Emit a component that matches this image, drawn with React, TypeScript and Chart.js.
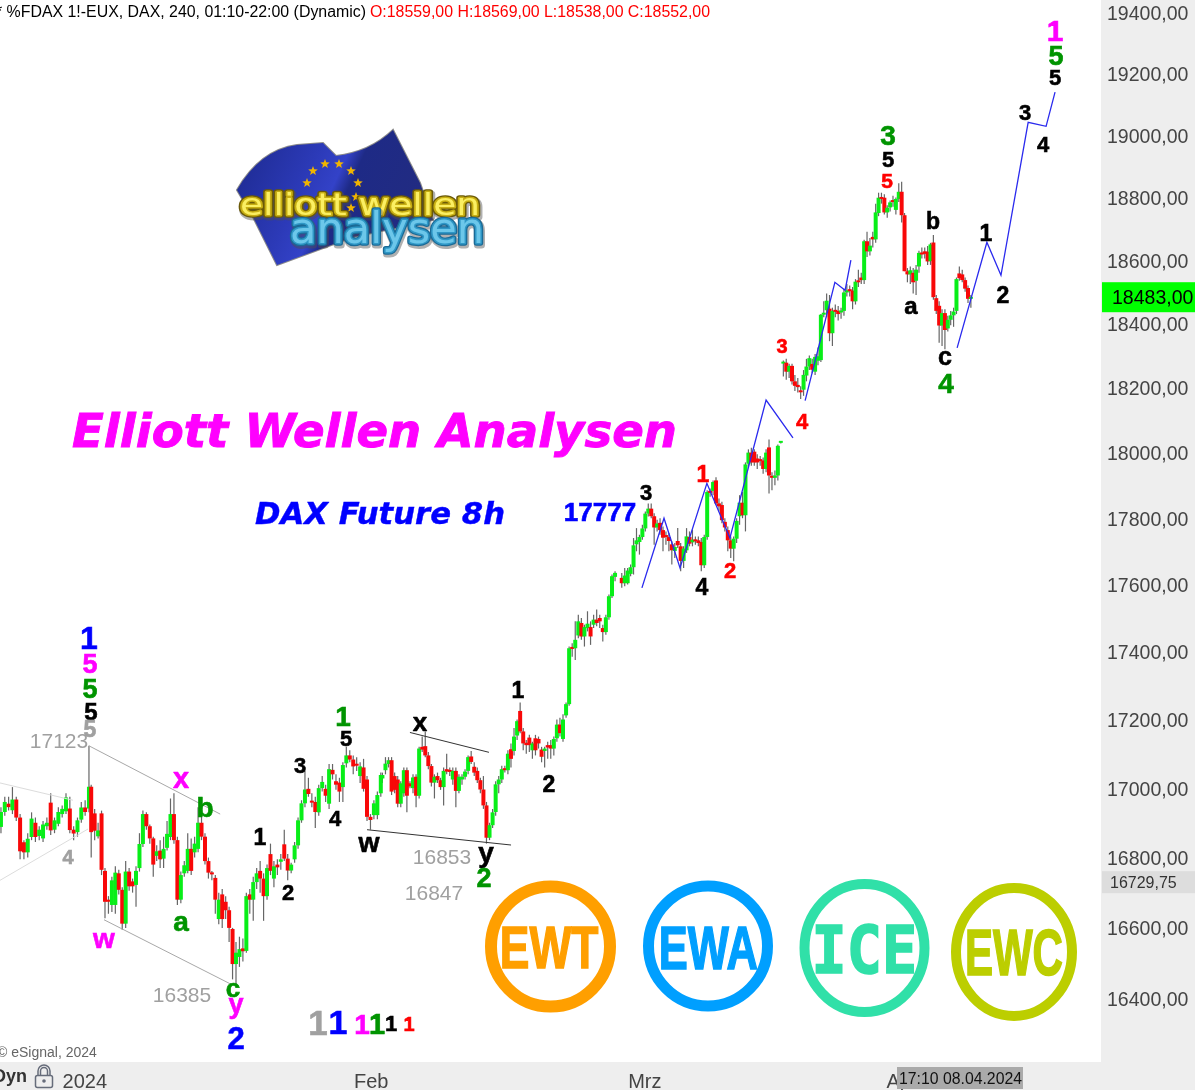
import React, { useEffect, useRef } from "react";
import { Chart, registerables } from "chart.js";

Chart.register(...registerables);

// open, high, low, close
const seg1: number[][] = [
  [16888,16945,16870,16931],[16931,16975,16920,16960],[16955,16975,16935,16945],[16936,17003,16925,16967],
  [16967,16975,16905,16915],[16915,16925,16795,16818],[16844,16850,16795,16815],[16815,16870,16800,16854],
  [16859,16930,16850,16912],[16900,16915,16845,16859],[16862,16890,16850,16880],[16855,16905,16845,16895],
  [16890,16915,16880,16900],[16958,16985,16865,16878],[16880,16915,16870,16907],[16897,16945,16890,16931],
  [16925,16950,16915,16940],[16933,16985,16925,16973],[16941,16975,16870,16879],[16880,16890,16850,16869],
  [16873,16915,16860,16907],[16909,16960,16900,16944],[16944,16965,16920,16931],[16941,17123,16930,17004],
];
const seg2: number[][] = [
  [17004,17010,16800,16873],[16927,16940,16850,16877],[16861,16900,16855,16878],[16927,16935,16750,16765],
  [16762,16770,16627,16674],[16680,16690,16640,16674],[16665,16745,16645,16735],[16665,16775,16640,16757],
  [16755,16765,16695,16708],[16708,16715,16595,16612],[16612,16790,16600,16760],[16760,16770,16705,16718],
  [16732,16740,16700,16718],[16722,16775,16660,16762],[16770,16870,16760,16839],[16839,16935,16830,16925],
  [16925,16930,16880,16890],[16890,16895,16840,16855],[16855,16860,16745,16780],[16805,16835,16790,16818],
  [16820,16850,16770,16795],[16797,16860,16770,16825],[16828,16905,16820,16868],[16859,16970,16850,16925],
  [16925,16985,16840,16850],[16850,16860,16665,16680],[16680,16760,16670,16750],[16755,16790,16745,16778],
  [16762,16870,16755,16825],[16825,16855,16750,16762],[16815,16860,16800,16840],[16825,16945,16815,16900],
  [16900,16920,16850,16860],[16860,16870,16780,16790],[16790,16800,16740,16757],[16757,16762,16735,16752],
  [16742,16750,16640,16680],[16625,16700,16610,16680],[16695,16710,16600,16625],[16674,16690,16625,16650],
  [16650,16660,16560,16600],[16597,16600,16455,16498],[16498,16560,16440,16530],[16518,16575,16490,16540],
  [16542,16570,16505,16534],[16535,16700,16530,16690],[16695,16710,16640,16680],[16680,16745,16620,16730],
  [16730,16770,16710,16755],[16762,16790,16700,16740],[16740,16755,16620,16690],[16690,16780,16680,16770],
  [16810,16840,16750,16762],[16740,16790,16715,16775],[16780,16795,16750,16772],[16788,16810,16765,16795],
  [16838,16880,16790,16797],[16797,16810,16735,16763],[16763,16785,16755,16780],[16795,16845,16785,16835],
  [16835,16915,16825,16907],[16907,16965,16900,16956],[16956,17050,16945,16996],[16998,17030,16975,16983],
  [16961,16985,16945,16958],[16960,16975,16885,16931],[16930,17010,16920,17000],[17000,17035,16990,17018],
  [16998,17010,16960,16978],[16955,17070,16940,17055],[17053,17070,17025,17040],[17020,17040,16995,17010],
  [17016,17030,16960,16990],[17003,17075,16960,17067],[17072,17120,17060,17095],[17095,17110,17075,17083],
  [17083,17095,17040,17063],[17070,17090,17050,17065],[17035,17075,17015,17063],[17060,17085,16990,16998],
  [17025,17035,16905,16917],[16917,16925,16880,16908],[16922,16965,16910,16956],[16922,16990,16910,16980],
  [16985,17045,16975,17038],
];
const seg3: number[][] = [
  [17028,17045,17015,17038],[17052,17090,17040,17071],[17070,17090,17060,17081],[17081,17090,16980,16990],
  [17035,17045,16985,16995],[17025,17035,16945,16955],[16955,17020,16945,17014],[16985,17060,16975,17052],
  [17052,17060,16930,16978],[17014,17020,17000,17005],[17000,17040,16985,17031],[17033,17040,16945,16978],
  [16978,17120,16970,17115],[17120,17150,17105,17112],[17122,17165,17090,17095],[17095,17105,17055,17064],
  [17064,17070,17005,17016],[17016,17040,16970,17033],[17035,17045,17015,17023],[17023,17030,16995,17003],
  [17003,17060,16950,17050],[17055,17100,17040,17048],[17050,17060,17035,17047],[17025,17060,17010,17050],
  [17050,17060,16945,16992],[16992,17040,16985,17033],[17025,17040,17010,17033],[17033,17055,17025,17048],
  [17050,17095,17040,17090],[17092,17108,17070,17076],[17062,17075,17035,17045],[17050,17060,17015,17023],
  [17023,17030,16985,16996],[16996,17035,16940,16950],[16950,16960,16840,16857],[16857,16900,16850,16893],
  [16893,16940,16885,16930],[16931,17020,16920,17011],[17011,17035,16985,17025],[17025,17065,17015,17055],
  [17057,17065,17045,17052],[17052,17110,17040,17100],[17113,17130,17060,17085],[17108,17175,17095,17150],
  [17153,17200,17140,17195],[17225,17250,17160,17165],[17165,17175,17110,17130],[17132,17140,17100,17125],
  [17147,17155,17105,17125],[17110,17135,17085,17130],[17145,17155,17095,17110],[17143,17150,17115,17130],
  [17112,17120,17075,17091],[17108,17120,17060,17115],[17125,17135,17085,17118],[17125,17140,17085,17115],
  [17115,17150,17095,17143],[17145,17200,17135,17185],[17185,17205,17150,17160],[17143,17215,17135,17200],
  [17212,17250,17205,17245],[17245,17415,17240,17410],[17413,17425,17385,17408],[17410,17490,17375,17435],
  [17448,17510,17440,17490],[17485,17500,17435,17445],[17445,17480,17415,17473],[17470,17520,17460,17483],
  [17473,17490,17420,17445],[17480,17510,17470,17495],[17495,17525,17475,17485],[17500,17510,17470,17490],
  [17470,17480,17430,17458],[17458,17510,17450,17502],[17502,17570,17495,17565],[17565,17630,17560,17625],
  [17623,17640,17610,17635],
];
const seg4: number[][] = [
  [17620,17635,17590,17604],[17604,17650,17595,17627],[17604,17650,17600,17642],[17632,17660,17625,17652],
  [17652,17740,17630,17718],[17721,17770,17700,17733],[17728,17750,17690,17743],[17743,17780,17735,17769],
  [17769,17820,17760,17814],[17814,17845,17805,17829],[17829,17845,17800,17806],[17806,17815,17720,17772],
  [17772,17795,17760,17784],[17786,17800,17750,17764],[17764,17775,17700,17741],[17748,17760,17720,17743],
  [17743,17755,17700,17731],[17721,17730,17660,17703],[17701,17725,17680,17713],[17731,17770,17710,17718],
  [17715,17725,17640,17671],[17671,17715,17650,17708],[17703,17770,17695,17745],[17743,17760,17715,17723],
  [17727,17765,17715,17735],[17735,17745,17720,17730],[17733,17745,17715,17725],[17728,17740,17640,17658],
  [17658,17750,17650,17743],[17743,17885,17735,17880],[17880,17890,17865,17877],[17883,17915,17870,17910],
  [17915,17925,17840,17845],[17845,17860,17820,17836],[17840,17850,17785,17794],[17789,17800,17760,17772],
  [17764,17775,17700,17733],[17733,17745,17680,17708],[17708,17745,17670,17738],[17738,17800,17725,17792],
  [17806,17870,17780,17847],[17847,17880,17800,17809],[17809,17970,17760,17964],[17966,18010,17955,18000],
  [18000,18015,17960,17970],[18003,18010,17960,17970],[17982,17995,17950,17970],[17978,17990,17960,17974],
  [17976,17985,17935,17950],[17950,18010,17940,18000],[18016,18040,17875,17930],[17927,17940,17885,17923],
  [17923,17945,17900,17930],[17930,18025,17915,18021],[18030,18034,18028,18032],
];
const seg5: number[][] = [
  [18275,18285,18235,18280],[18278,18290,18225,18250],[18250,18275,18230,18268],[18268,18275,18210,18220],
  [18220,18240,18190,18206],[18209,18230,18185,18202],[18192,18205,18165,18186],[18194,18255,18175,18240],
  [18238,18290,18220,18266],[18266,18300,18255,18292],[18274,18290,18245,18256],[18250,18305,18240,18296],
  [18284,18325,18270,18298],[18286,18430,18280,18428],[18428,18470,18420,18433],[18442,18495,18420,18472],
  [18447,18490,18345,18370],[18370,18450,18330,18440],[18442,18460,18420,18437],[18440,18455,18410,18430],
  [18435,18450,18415,18440],[18440,18510,18425,18498],[18498,18525,18485,18505],[18506,18520,18485,18502],
  [18504,18515,18445,18470],[18470,18540,18460,18532],[18535,18570,18515,18530],[18545,18560,18525,18537],
  [18537,18665,18525,18660],[18660,18690,18610,18628],[18628,18670,18615,18646],[18674,18690,18640,18666],
  [18666,18780,18655,18752],[18750,18815,18740,18799],[18799,18815,18780,18795],[18799,18810,18745,18752],
  [18752,18775,18735,18767],[18768,18790,18755,18784],[18790,18805,18770,18785],[18760,18800,18745,18795],
  [18795,18845,18785,18818],[18818,18850,18720,18743],[18743,18750,18565,18565],[18565,18575,18530,18555],
  [18555,18580,18525,18568],[18560,18575,18495,18530],[18535,18585,18490,18570],[18580,18630,18560,18623],
  [18623,18640,18605,18618],[18628,18640,18605,18620],[18627,18645,18585,18596],[18597,18655,18585,18650],
  [18656,18680,18475,18483],[18480,18490,18430,18440],[18456,18470,18340,18394],[18394,18445,18330,18433],
  [18433,18445,18320,18380],[18385,18425,18375,18412],[18412,18440,18395,18426],[18426,18450,18390,18438],
  [18440,18545,18430,18540],[18558,18580,18535,18543],[18555,18570,18530,18537],[18537,18545,18500,18510],
  [18512,18520,18465,18478],[18478,18490,18450,18484],
];

const segmentSpans = [[0.3,27.8],[28.5,119],[119.5,192.2],[194.3,244],[244.8,303.4]];
const segments = [seg1, seg2, seg3, seg4, seg5];

const priceTicks = [16400,16600,16800,17000,17200,17400,17600,17800,18000,18200,18400,18600,18800,19000,19200,19400];
const timeTickSlots = [26.5,116,201.5,281.9];
const timeTickLabels = ["2024","Feb","Mrz","Apr"];

const projectionA = [[200.6,17590],[207.5,17800],[212.5,17650],[220.9,17906],[228.1,17740],[239.4,18162],[247.8,18045]];
const projectionB = [[251.6,18160],[260.9,18530],[264.1,18505],[265.9,18600]];
const projectionC = [[299.1,18324],[308.4,18657],[312.8,18552],[321.3,19042],[326.9,19029],[329.7,19140]];
const channelUpper = [[27.8,17123],[68.8,16925]];
const channelLower = [[32.5,16623],[72.5,16440]];
const fadedUpper = [[0,17015],[22.8,16965]];
const fadedLower = [[0,16735],[27.5,16882]];
const triangleUpper = [[128.1,17162],[152.8,17104]];
const triangleLower = [[114.7,16880],[159.7,16836]];

const lastPrice = 18483;
const crossPrice = 16729.75;

const BLUE = "#0000ff", MAG = "#ff00ff", GRN = "#009400", BLK = "#000000", GRY = "#a0a0a0", RED = "#ff0000";
// text, centre x, baseline y, size, colour, bold
const waveLabels: [string, number, number, number, string, boolean?][] = [
  ["1",89,649,32,BLUE],["5",90,673,27,MAG],["5",90,698,27,GRN],["5",91,720,24,BLK],["5",90,737,23,GRY],
  ["17123",59,748,21,GRY,false],["x",181,788,29,MAG],["b",205,817,28,GRN],["4",68,864,20,GRY],
  ["a",181,931,28,GRN],["w",104,948,28,MAG],["16385",182,1002,21,GRY,false],["c",233,997,26,GRN],
  ["y",236,1013,27,MAG],["2",236,1049,31,BLUE],
  ["1",318,1035,35,GRY],["1",338,1034,34,BLUE],["1",362,1034,28,MAG],["1",377,1034,29,GRN],["1",391,1031,22,BLK],["1",409,1031,20,RED],
  ["1",260,845,23,BLK],["2",288,900,22,BLK],["3",300,773,22,BLK],["1",343,726,28,GRN],["5",346,746,22,BLK],
  ["4",335,826,22,BLK],["w",369,852,27,BLK],["x",420,731,26,BLK],["1",518,698,23,BLK],["2",549,792,23,BLK],
  ["16853",442,864,21,GRY,false],["y",486,862,28,BLK],["2",484,887,27,GRN],["16847",434,900,21,GRY,false],
  ["3",646,500,22,BLK],["1",703,482,23,RED],["4",702,595,23,BLK],["2",730,578,22,RED],["4",802,429,22,RED],["3",782,353,20,RED],
  ["17777",600,521,26,BLUE],
  ["3",888,145,28,GRN],["5",888,167,22,BLK],["5",887,188,21,RED],["b",933,229,23,BLK],["a",911,314,24,BLK],
  ["1",986,241,23,BLK],["2",1003,303,23,BLK],["c",945,365,25,BLK],["4",946,393,28,GRN],
  ["4",1043,152,22,BLK],["3",1025,120,22,BLK],["1",1055,41,30,MAG],["5",1056,65,27,GRN],["5",1055,85,22,BLK],
];
const badges: [string, number, number, number, number, string, number, number, number, number, string, number][] = [
  ["EWT",550.5,946.5,59.5,60,"#ff9f00",550,947,96,41,"Liberation Sans",12],
  ["EWA",708,946,59.5,60,"#009fff",709,947,96,43,"Liberation Sans",11],
  ["ICE",864.5,948,60,64,"#30e0a8",865,949,98,52,"DejaVu Sans Mono",10],
  ["EWC",1014,952,58,64,"#bcce00",1014.5,952,95,45,"Liberation Sans",10],
];
const starSpots = [[313,171],[325,164],[339,164],[351,171],[358,183],[356,197],[351,208],[307,183]];

function fitText(ctx: CanvasRenderingContext2D, text: string, x: number, base: number, width: number, font: string, color: string, heavy = 0) {
  ctx.save();
  ctx.font = font;
  ctx.textAlign = "left";
  ctx.textBaseline = "alphabetic";
  const m = ctx.measureText(text).width;
  ctx.translate(x, base);
  ctx.scale(width / m, 1);
  ctx.fillStyle = color;
  ctx.fillText(text, 0, 0);
  if (heavy > 0) {
    ctx.strokeStyle = color;
    ctx.lineWidth = heavy;
    ctx.lineJoin = "miter";
    ctx.miterLimit = 2;
    ctx.strokeText(text, 0, 0);
  }
  ctx.restore();
}
function fitBox(ctx: CanvasRenderingContext2D, text: string, cx: number, cy: number, w: number, h: number, font: string, color: string) {
  ctx.save();
  ctx.font = font;
  ctx.textAlign = "left";
  ctx.textBaseline = "alphabetic";
  const m = ctx.measureText(text);
  const tw = m.actualBoundingBoxRight + m.actualBoundingBoxLeft;
  const th = m.actualBoundingBoxAscent + m.actualBoundingBoxDescent;
  ctx.translate(cx, cy);
  ctx.scale(w / tw, h / th);
  ctx.fillStyle = color;
  ctx.strokeStyle = color;
  ctx.lineWidth = 1;
  ctx.lineJoin = "miter";
  ctx.fillText(text, -tw / 2 + m.actualBoundingBoxLeft, th / 2 - m.actualBoundingBoxDescent);
  ctx.strokeText(text, -tw / 2 + m.actualBoundingBoxLeft, th / 2 - m.actualBoundingBoxDescent);
  ctx.restore();
}
function star(ctx: CanvasRenderingContext2D, x: number, y: number, r: number) {
  ctx.beginPath();
  for (let i = 0; i < 10; i++) {
    const a = -Math.PI / 2 + (i * Math.PI) / 5;
    const d = i % 2 ? r * 0.42 : r;
    ctx.lineTo(x + Math.cos(a) * d, y + Math.sin(a) * d);
  }
  ctx.closePath();
  ctx.fill();
}
function logoWord(ctx: CanvasRenderingContext2D, text: string, x: number, base: number, width: number, font: string, dark: string, mid: string, light: string) {
  ctx.save();
  ctx.font = font;
  ctx.textBaseline = "alphabetic";
  ctx.textAlign = "left";
  ctx.lineJoin = "round";
  const m = ctx.measureText(text).width;
  ctx.translate(x, base);
  ctx.scale(width / m, 1);
  ctx.strokeStyle = "rgba(80,80,80,0.45)";
  ctx.lineWidth = 7;
  ctx.strokeText(text, 1, 2);
  ctx.strokeStyle = dark;
  ctx.lineWidth = 5.5;
  ctx.strokeText(text, 0, 0);
  ctx.strokeStyle = mid;
  ctx.lineWidth = 3;
  ctx.strokeText(text, 0, 0);
  ctx.fillStyle = light;
  ctx.fillText(text, 0, 0);
  ctx.restore();
}

const backdrop = {
  id: "backdrop",
  beforeDraw(chart: any) {
    const { ctx } = chart;
    ctx.save();
    ctx.fillStyle = "#ffffff";
    ctx.fillRect(0, 0, 1195, 1090);
    ctx.fillStyle = "#eeeeee";
    ctx.fillRect(0, 1062, 1195, 28);
    ctx.fillRect(1101, 0, 94, 1090);
    ctx.restore();
    // price labels sit two pixels under their tick position
    if (!chart.$labelsNudged) {
      chart.scales.y.getLabelItems().forEach((item: any) => { item.options.translation[1] += 2; });
      chart.$labelsNudged = true;
    }
  },
};

const overlay = {
  id: "overlay",
  afterDraw(chart: any) {
    const { ctx } = chart;
    const y = chart.scales.y;
    ctx.save();

    // header
    fitText(ctx, "* %FDAX 1!-EUX, DAX, 240, 01:10-22:00 (Dynamic)", -4, 17, 370, "16px 'Liberation Sans'", "#000000");
    fitText(ctx, "O:18559,00 H:18569,00 L:18538,00 C:18552,00", 370, 17, 340, "16px 'Liberation Sans'", "#ff0000");

    // title
    fitText(ctx, "Elliott Wellen Analysen", 72, 447, 605, "italic bold 46px 'DejaVu Sans'", MAG, 0.9);
    fitText(ctx, "DAX Future 8h", 255, 524, 250, "italic bold 30px 'DejaVu Sans'", BLUE, 0.4);

    // logo flag
    const g = ctx.createLinearGradient(237, 150, 430, 240);
    g.addColorStop(0, "#1d2a90");
    g.addColorStop(0.35, "#2c3ab8");
    g.addColorStop(0.48, "#3342c8");
    g.addColorStop(0.55, "#1e2a86");
    g.addColorStop(1, "#232c80");
    ctx.beginPath();
    ctx.moveTo(237, 190);
    ctx.quadraticCurveTo(260, 150, 297, 145);
    ctx.lineTo(323, 143);
    ctx.lineTo(336, 156);
    ctx.quadraticCurveTo(370, 152, 393, 130);
    ctx.lineTo(420, 183);
    ctx.lineTo(433, 220);
    ctx.lineTo(353, 237);
    ctx.lineTo(277, 265);
    ctx.lineTo(253, 217);
    ctx.closePath();
    ctx.fillStyle = g;
    ctx.strokeStyle = "#8a8a8a";
    ctx.lineWidth = 2;
    ctx.stroke();
    ctx.fill();
    ctx.fillStyle = "#f0b400";
    starSpots.forEach(([sx, sy]) => star(ctx, sx, sy, 5));
    logoWord(ctx, "elliott wellen", 240, 215, 240, "30px 'DejaVu Sans'", "#6b5a08", "#c7ae12", "#fbef62");
    logoWord(ctx, "analysen", 290, 243, 194, "42px 'DejaVu Sans'", "#1a6a96", "#2f97c6", "#6cc7ea");

    // badges
    badges.forEach(([t, cx, cy, rx, ry, col, tx, ty, tw, th, fam, lw]) => {
      ctx.beginPath();
      ctx.ellipse(cx, cy, rx, ry, 0, 0, Math.PI * 2);
      ctx.strokeStyle = col;
      ctx.lineWidth = lw;
      ctx.stroke();
      fitBox(ctx, t, tx, ty, tw, th, `bold 40px '${fam}'`, col);
    });

    // wave labels
    ctx.textAlign = "center";
    ctx.textBaseline = "alphabetic";
    ctx.lineJoin = "miter";
    ctx.miterLimit = 2;
    waveLabels.forEach(([t, x, b, s, c, bold]) => {
      ctx.font = `${bold === false ? "" : "bold "}${s}px 'Liberation Sans'`;
      ctx.fillStyle = c;
      ctx.fillText(t, x, b);
      if (bold !== false) {
        ctx.strokeStyle = c;
        ctx.lineWidth = 0.6;
        ctx.strokeText(t, x, b);
      }
    });

    // copyright and bottom strip
    ctx.textAlign = "left";
    ctx.font = "14px 'Liberation Sans'";
    ctx.fillStyle = "#666666";
    ctx.fillText("© eSignal, 2024", -3, 1057);
    ctx.font = "bold 18px 'Liberation Sans'";
    ctx.fillStyle = "#333333";
    ctx.textAlign = "right";
    ctx.fillText("Dyn", 27, 1082);
    ctx.strokeStyle = "#666c7a";
    ctx.lineWidth = 1.5;
    ctx.beginPath();
    ctx.roundRect(35.5, 1075.5, 17, 12, 2);
    ctx.stroke();
    ctx.beginPath();
    ctx.moveTo(38, 1075);
    ctx.lineTo(38, 1071);
    ctx.arc(44, 1071, 6, Math.PI, 0);
    ctx.lineTo(50, 1075);
    ctx.moveTo(40.5, 1075);
    ctx.lineTo(40.5, 1071);
    ctx.arc(44, 1071, 3.5, Math.PI, 0);
    ctx.lineTo(47.5, 1075);
    ctx.stroke();
    ctx.fillStyle = "#666c7a";
    ctx.beginPath();
    ctx.arc(44, 1081, 1.8, 0, Math.PI * 2);
    ctx.fill();

    // crosshair time tag
    ctx.fillStyle = "#aaaaaa";
    ctx.fillRect(897, 1067, 126, 22);
    fitText(ctx, "17:10 08.04.2024", 899, 1084, 123, "16px 'Liberation Sans'", "#111111");

    // price tags
    const lastY = y.getPixelForValue(lastPrice);
    ctx.fillStyle = "#00ff00";
    ctx.fillRect(1102, lastY - 15, 93, 30);
    ctx.fillStyle = "#000000";
    ctx.textAlign = "left";
    ctx.font = "19.5px 'Liberation Sans'";
    ctx.fillText("18483,00", 1112, lastY + 7);
    const crossY = y.getPixelForValue(crossPrice);
    ctx.fillStyle = "#dddddd";
    ctx.fillRect(1102, crossY - 11, 93, 22);
    ctx.fillStyle = "#333333";
    ctx.font = "16px 'Liberation Sans'";
    ctx.fillText("16729,75", 1110, crossY + 6);
    ctx.restore();
  },
};

function lineDataset(points: number[][], color: string, width = 1) {
  return {
    type: "line" as const,
    data: points.map(([x, v]) => ({ x, y: v })),
    borderColor: color,
    borderWidth: width,
    pointRadius: 0,
    tension: 0,
    order: 0,
  };
}

export default function App() {
  const ref = useRef<HTMLCanvasElement | null>(null);
  useEffect(() => {
    if (!ref.current) return;
    const rows = segments.flatMap((seg, s) => {
      const [a, b] = segmentSpans[s];
      return seg.map((c, k) => ({ x: a + (k * (b - a)) / (seg.length - 1), c }));
    });
    const wicks = rows.map(({ x, c }) => ({ x, y: [c[2], c[1]] }));
    const bodies = rows.map(({ x, c }) => ({ x, y: [Math.min(c[0], c[3]), Math.max(c[0], c[3])] }));
    const colours = rows.map(({ c }) => (c[3] >= c[0] ? "#08ee18" : "#f80808"));
    const chart = new Chart(ref.current, {
      type: "bar",
      data: {
        datasets: [
          lineDataset(projectionA, "#2a2aee", 1.3),
          lineDataset(projectionB, "#2a2aee", 1.3),
          lineDataset(projectionC, "#2a2aee", 1.3),
          lineDataset(channelUpper, "#a8a8a8"),
          lineDataset(channelLower, "#a8a8a8"),
          lineDataset(fadedUpper, "#dcdcdc"),
          lineDataset(fadedLower, "#dcdcdc"),
          lineDataset(triangleUpper, "#333333"),
          lineDataset(triangleLower, "#333333"),
          { data: bodies, backgroundColor: colours, barThickness: 4, grouped: false, minBarLength: 2, inflateAmount: 0, order: 1 },
          { data: wicks, backgroundColor: "#666666", barThickness: 1.2, grouped: false, inflateAmount: 0, order: 2 },
        ] as any,
      },
      options: {
        responsive: false,
        animation: false,
        devicePixelRatio: 1,
        layout: { padding: 0 },
        plugins: { legend: { display: false }, title: { display: false }, tooltip: { enabled: false } },
        scales: {
          x: {
            type: "linear",
            offset: false,
            min: 0,
            max: 344.06,
            border: { display: false },
            grid: { display: false, drawTicks: false },
            afterBuildTicks: (s: any) => { s.ticks = timeTickSlots.map((value) => ({ value })); },
            afterFit: (s: any) => { s.height = 28; s.paddingLeft = 0; s.paddingRight = 0; },
            ticks: {
              autoSkip: false,
              maxRotation: 0,
              padding: 8,
              color: "#444444",
              font: { family: "Liberation Sans", size: 20 },
              callback: (v: any) => timeTickLabels[timeTickSlots.indexOf(v)] ?? "",
            },
          },
          y: {
            type: "logarithmic",
            position: "right",
            min: 16225,
            max: 19443,
            border: { display: false },
            grid: { display: false, drawTicks: false },
            afterBuildTicks: (s: any) => { s.ticks = priceTicks.map((value) => ({ value })); },
            afterFit: (s: any) => { s.width = 94; s.paddingTop = 0; s.paddingBottom = 0; },
            ticks: {
              autoSkip: false,
              padding: 6,
              color: "#444444",
              font: { family: "Liberation Sans", size: 19.5 },
              callback: (v: any) => `${v},00`,
            },
          },
        },
      },
      plugins: [backdrop, overlay],
    } as any);
    return () => chart.destroy();
  }, []);
  return (
    <canvas
      ref={ref}
      width={1195}
      height={1090}
      style={{ position: "absolute", left: 0, top: 0, display: "block" }}
    />
  );
}
